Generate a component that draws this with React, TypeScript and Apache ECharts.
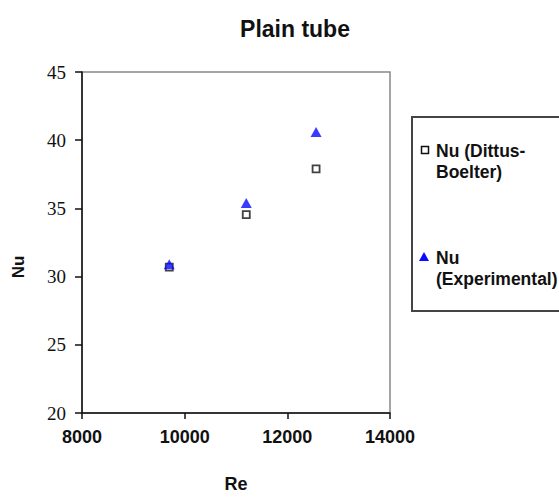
import React, { useEffect, useRef } from "react";
import * as echarts from "echarts";

const reValues = [9700, 11200, 12560];
const nuDittusBoelter = [30.7, 34.55, 37.9];
const nuExperimental = [30.9, 35.4, 40.6];
const xTicks = { min: 8000, max: 14000, interval: 2000 };
const yTicks = { min: 20, max: 45, interval: 5 };
const seriesNames = ["Nu (Dittus-Boelter)", "Nu (Experimental)"];

export default function App() {
  const ref = useRef<HTMLDivElement>(null);
  useEffect(() => {
    if (!ref.current) return;
    const chart = echarts.init(ref.current, undefined, { renderer: "svg" });
    const sans = "Liberation Sans";
    const serif = "Liberation Serif";
    chart.setOption({
      animation: false,
      backgroundColor: "#ffffff",
      title: {
        text: "Plain tube",
        left: 290,
        top: 12,
        textAlign: "center",
        textStyle: { fontFamily: sans, fontWeight: "bold", fontSize: 23, color: "#111" },
      },
      grid: {
        left: 82,
        top: 72,
        right: 169,
        bottom: 70,
        show: true,
        borderColor: "#888",
        borderWidth: 1.5,
        backgroundColor: "#fff",
      },
      xAxis: {
        type: "value",
        min: xTicks.min,
        max: xTicks.max,
        interval: xTicks.interval,
        name: "Re",
        nameLocation: "middle",
        nameGap: 62,
        nameTextStyle: { fontFamily: sans, fontWeight: "bold", fontSize: 18, color: "#111" },
        axisLine: { show: true, lineStyle: { color: "#111", width: 1.5 } },
        axisTick: { show: true, inside: false, length: 6, lineStyle: { color: "#111", width: 1.5 } },
        axisLabel: {
          fontFamily: sans,
          fontWeight: "bold",
          fontSize: 18,
          color: "#111",
          margin: 15,
          formatter: (v: number) => String(v),
        },
        splitLine: { show: false },
      },
      yAxis: {
        type: "value",
        min: yTicks.min,
        max: yTicks.max,
        interval: yTicks.interval,
        axisLine: { show: true, lineStyle: { color: "#111", width: 1.5 } },
        axisTick: { show: true, inside: false, length: 7, lineStyle: { color: "#111", width: 1.5 } },
        axisLabel: { fontFamily: serif, fontSize: 19, color: "#111", margin: 16 },
        splitLine: { show: false },
      },
      series: [
        {
          name: seriesNames[0],
          type: "scatter",
          symbol: "rect",
          symbolSize: 7,
          itemStyle: { color: "#fff", borderColor: "#111", borderWidth: 1.8 },
          data: reValues.map((r, i) => [r, nuDittusBoelter[i]]),
          z: 2,
        },
        {
          name: seriesNames[1],
          type: "scatter",
          symbol: "triangle",
          symbolSize: [11, 10],
          itemStyle: { color: "#0a0aff" },
          data: reValues.map((r, i) => [r, nuExperimental[i]]),
          z: 3,
        },
      ],
      graphic: [
        {
          type: "text",
          x: 18,
          y: 267,
          rotation: Math.PI / 2,
          style: {
            text: "Nu",
            fontFamily: sans,
            fontWeight: "bold",
            fontSize: 17,
            fill: "#111",
            align: "center",
            verticalAlign: "middle",
          },
        },
        {
          type: "rect",
          shape: { x: 412, y: 117, width: 170, height: 194 },
          style: { fill: "#fff", stroke: "#444", lineWidth: 2 },
        },
        {
          type: "rect",
          shape: { x: 421.5, y: 146.5, width: 7, height: 7 },
          style: { fill: "#fff", stroke: "#111", lineWidth: 1.5 },
        },
        {
          type: "text",
          x: 436,
          y: 140,
          style: {
            text: "Nu (Dittus-\nBoelter)",
            fontFamily: sans,
            fontWeight: "bold",
            fontSize: 17.5,
            lineHeight: 21,
            fill: "#111",
            align: "left",
            verticalAlign: "top",
          },
        },
        {
          type: "polygon",
          shape: { points: [[424, 252], [429, 261], [419, 261]] },
          style: { fill: "#0a0aff" },
        },
        {
          type: "text",
          x: 436,
          y: 247,
          style: {
            text: "Nu\n(Experimental)",
            fontFamily: sans,
            fontWeight: "bold",
            fontSize: 17.5,
            lineHeight: 21,
            fill: "#111",
            align: "left",
            verticalAlign: "top",
          },
        },
      ],
    });
    return () => chart.dispose();
  }, []);
  return (
    <div
      ref={ref}
      style={{ position: "fixed", left: 0, top: 0, width: 559, height: 498, background: "#fff" }}
    />
  );
}
